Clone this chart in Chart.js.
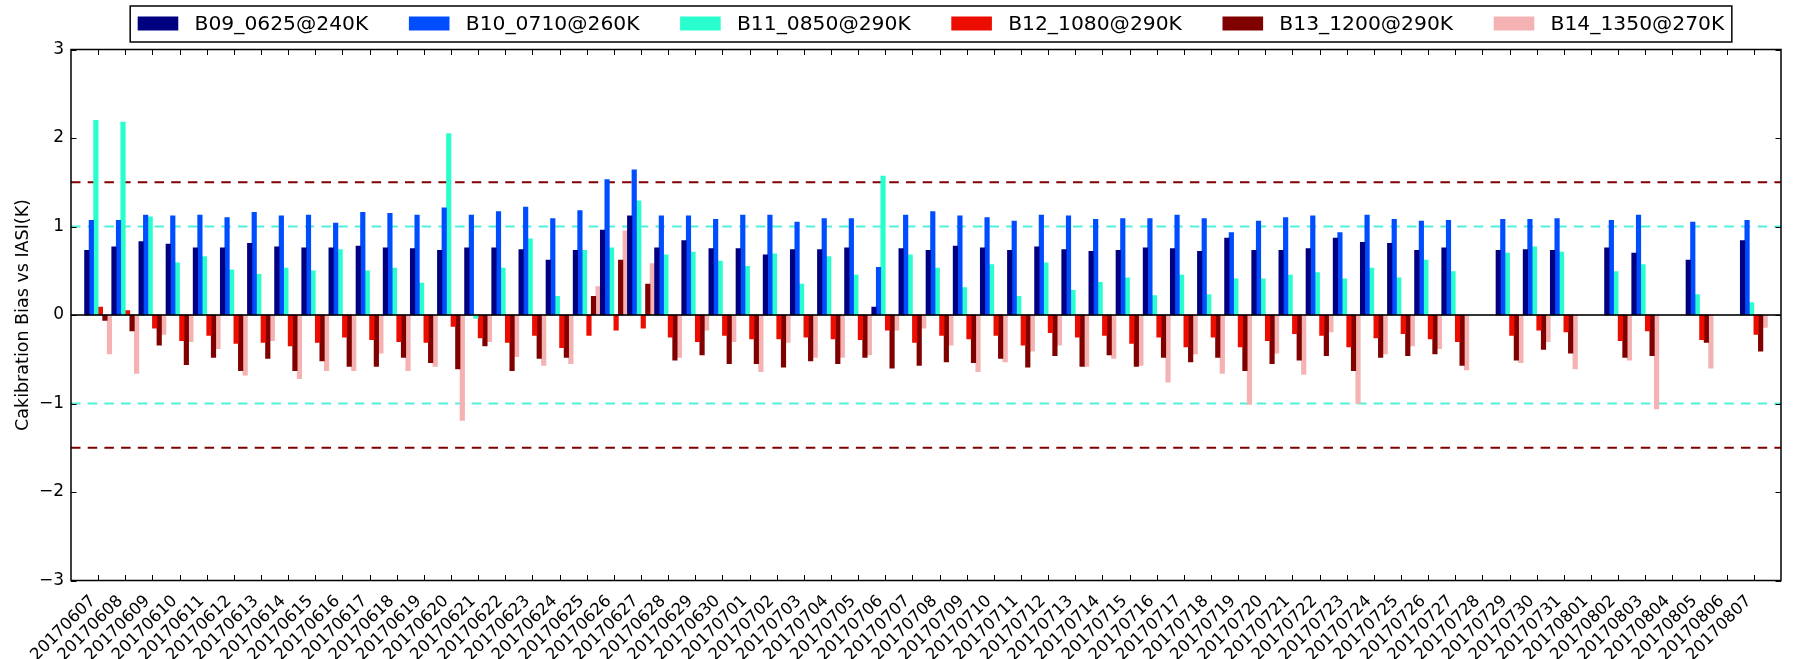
<!DOCTYPE html>
<html>
<head>
<meta charset="utf-8">
<script src="https://cdn.jsdelivr.net/npm/chart.js@4.4.1/dist/chart.umd.min.js"></script>
<style>
    html, body { margin: 0; padding: 0; background: #fff; }
    #wrap { width: 1806px; height: 659px; }
</style>
</head>
<body>
<div id="wrap"><canvas id="biasChart" width="1806" height="659"></canvas></div>
<script>
/* Sesgo de calibración vs IASI por banda */

const fechas = [
    "20170607", "20170608", "20170609", "20170610", "20170611", "20170612", "20170613", "20170614",
    "20170615", "20170616", "20170617", "20170618", "20170619", "20170620", "20170621", "20170622",
    "20170623", "20170624", "20170625", "20170626", "20170627", "20170628", "20170629", "20170630",
    "20170701", "20170702", "20170703", "20170704", "20170705", "20170706", "20170707", "20170708",
    "20170709", "20170710", "20170711", "20170712", "20170713", "20170714", "20170715", "20170716",
    "20170717", "20170718", "20170719", "20170720", "20170721", "20170722", "20170723", "20170724",
    "20170725", "20170726", "20170727", "20170728", "20170729", "20170730", "20170731", "20170801",
    "20170802", "20170803", "20170804", "20170805", "20170806", "20170807"
];

const b09 = [0.73, 0.77, 0.83, 0.80, 0.76, 0.76, 0.81, 0.77, 0.76, 0.76,
    0.78, 0.76, 0.75, 0.73, 0.76, 0.76, 0.74, 0.62, 0.73, 0.96,
    1.12, 0.76, 0.84, 0.75, 0.75, 0.68, 0.74, 0.74, 0.76, 0.09,
    0.75, 0.73, 0.78, 0.76, 0.73, 0.77, 0.74, 0.72, 0.73, 0.76,
    0.75, 0.72, 0.87, 0.73, 0.73, 0.75, 0.87, 0.82, 0.81, 0.73,
    0.76, null, 0.73, 0.74, 0.73, null, 0.76, 0.70, null, 0.62,
    null, 0.84];

const b10 = [1.07, 1.07, 1.13, 1.12, 1.13, 1.10, 1.16, 1.12, 1.13, 1.04,
    1.16, 1.15, 1.13, 1.21, 1.13, 1.17, 1.22, 1.09, 1.18, 1.53,
    1.64, 1.12, 1.12, 1.08, 1.13, 1.13, 1.05, 1.09, 1.09, 0.54,
    1.13, 1.17, 1.12, 1.10, 1.06, 1.13, 1.12, 1.08, 1.09, 1.09,
    1.13, 1.09, 0.93, 1.06, 1.10, 1.12, 0.93, 1.13, 1.08, 1.06,
    1.07, null, 1.08, 1.08, 1.09, null, 1.07, 1.13, null, 1.05,
    null, 1.07];

const b11 = [2.20, 2.18, 1.11, 0.59, 0.66, 0.51, 0.46, 0.53, 0.50, 0.74,
    0.50, 0.53, 0.36, 2.05, -0.04, 0.53, 0.86, 0.21, 0.73, 0.76,
    1.29, 0.68, 0.71, 0.61, 0.55, 0.69, 0.35, 0.66, 0.45, 1.57,
    0.68, 0.53, 0.31, 0.57, 0.21, 0.59, 0.28, 0.37, 0.42, 0.22,
    0.45, 0.23, 0.41, 0.41, 0.45, 0.48, 0.41, 0.53, 0.42, 0.62,
    0.49, null, 0.70, 0.77, 0.71, null, 0.49, 0.57, null, 0.23,
    null, 0.14];

const b12 = [0.09, 0.05, -0.15, -0.29, -0.23, -0.32, -0.31, -0.35, -0.31, -0.25,
    -0.28, -0.30, -0.31, -0.13, -0.26, -0.31, -0.23, -0.37, -0.23, -0.17,
    -0.15, -0.25, -0.30, -0.23, -0.27, -0.27, -0.25, -0.27, -0.28, -0.17,
    -0.31, -0.23, -0.27, -0.23, -0.34, -0.20, -0.25, -0.23, -0.32, -0.25,
    -0.36, -0.25, -0.36, -0.29, -0.21, -0.23, -0.36, -0.26, -0.21, -0.27,
    -0.30, null, -0.23, -0.17, -0.19, null, -0.29, -0.18, null, -0.28,
    null, -0.22];

const b13 = [-0.06, -0.18, -0.34, -0.56, -0.48, -0.63, -0.49, -0.63, -0.52, -0.58,
    -0.58, -0.48, -0.54, -0.61, -0.35, -0.63, -0.49, -0.48, 0.21, 0.62,
    0.35, -0.51, -0.45, -0.55, -0.55, -0.59, -0.52, -0.55, -0.48, -0.60,
    -0.57, -0.53, -0.54, -0.49, -0.59, -0.46, -0.58, -0.45, -0.58, -0.48,
    -0.53, -0.48, -0.63, -0.55, -0.51, -0.46, -0.63, -0.48, -0.46, -0.44,
    -0.57, null, -0.51, -0.39, -0.43, null, -0.48, -0.46, null, -0.31,
    null, -0.41];

const b14 = [-0.44, -0.66, -0.22, -0.30, -0.38, -0.68, -0.29, -0.72, -0.63, -0.63,
    -0.43, -0.63, -0.58, -1.19, -0.30, -0.47, -0.57, -0.55, 0.32, 0.95,
    0.58, -0.48, -0.17, -0.30, -0.64, -0.31, -0.48, -0.48, -0.45, -0.17,
    -0.15, -0.34, -0.64, -0.53, -0.41, -0.34, -0.58, -0.49, -0.57, -0.76,
    -0.44, -0.66, -1.01, -0.43, -0.67, -0.19, -1.00, -0.44, -0.35, -0.38,
    -0.62, null, -0.54, -0.30, -0.61, null, -0.51, -1.06, null, -0.60,
    null, -0.14];

const bandas = ["B09_0625@240K", "B10_0710@260K", "B11_0850@290K",
    "B12_1080@290K", "B13_1200@290K", "B14_1350@270K"];
const colores = ["#000080", "#004cff", "#29ffce", "#ec0c00", "#800000", "#f5b2b2"];

const yTicks = [-3, -2, -1, 0, 1, 2, 3];
const limitesRojo = [1.5, -1.5];
const limitesCian = [1, -1];

const FUENTE = "'DejaVu Sans', 'Liberation Sans', sans-serif";
Chart.defaults.font.family = FUENTE;
Chart.defaults.color = "#000";

// una categoría vacía a cada lado para dejar el margen de matplotlib
const etiquetas = [""].concat(fechas, [""]);
const conMargen = arr => [null].concat(arr, [null]);

// líneas de referencia discontinuas, debajo de las barras
const lineasRef = {
    id: "lineasRef",
    beforeDatasetsDraw(chart) {
        const { ctx, chartArea: a, scales: { y } } = chart;
        ctx.save();
        ctx.lineWidth = 2;
        ctx.setLineDash([9.5, 7.2]);
        const trazar = (v, color) => {
            const py = y.getPixelForValue(v);
            ctx.strokeStyle = color;
            ctx.beginPath();
            ctx.moveTo(a.left, py);
            ctx.lineTo(a.right, py);
            ctx.stroke();
        };
        limitesCian.forEach(v => trazar(v, "#50f0dc"));
        limitesRojo.forEach(v => trazar(v, "#800000"));
        ctx.restore();
    }
};

// marco, línea de cero y marcas hacia dentro en los cuatro lados
const marco = {
    id: "marco",
    afterDatasetsDraw(chart) {
        const { ctx, chartArea: a, scales: { x, y } } = chart;
        ctx.save();
        const p0 = y.getPixelForValue(0);
        ctx.strokeStyle = "rgba(0,0,0,0.8)";
        ctx.lineWidth = 1.8;
        ctx.beginPath();
        ctx.moveTo(a.left, p0);
        ctx.lineTo(a.right, p0);
        ctx.stroke();

        ctx.strokeStyle = "#000";
        ctx.lineWidth = 1;
        const L = 5.5;
        ctx.beginPath();
        for (let i = 1; i <= fechas.length; i++) {
            const px = Math.round(x.getPixelForTick(i)) + 0.5;
            ctx.moveTo(px, a.bottom);
            ctx.lineTo(px, a.bottom - L);
            ctx.moveTo(px, a.top);
            ctx.lineTo(px, a.top + L);
        }
        yTicks.forEach(v => {
            const py = Math.round(y.getPixelForValue(v)) + 0.5;
            ctx.moveTo(a.left, py);
            ctx.lineTo(a.left + L, py);
            ctx.moveTo(a.right, py);
            ctx.lineTo(a.right - L, py);
        });
        ctx.stroke();

        ctx.lineWidth = 1.5;
        ctx.strokeRect(a.left, a.top, a.right - a.left, a.bottom - a.top);
        ctx.restore();
    }
};

// leyenda con marco, en 6 columnas, sobre el área de trazado
const leyenda = {
    id: "leyenda",
    afterDraw(chart) {
        const { ctx, chartArea: a } = chart;
        const fs = 20.3;
        const handle = 2 * fs, sep = 0.8 * fs, col = 2 * fs, borde = 7.5;
        ctx.save();
        ctx.font = fs + "px " + FUENTE;
        const items = chart.data.datasets;
        const anchos = items.map(d => ctx.measureText(d.label).width);
        let total = col * (items.length - 1);
        anchos.forEach(w => { total += handle + sep + w; });
        const cx = (a.left + a.right) / 2 + 5;
        let xi = cx - total / 2;
        const top = 6, alto = 36, cy = top + alto / 2 - 0.5;

        ctx.fillStyle = "#fff";
        ctx.fillRect(xi - borde, top, total + 2 * borde, alto);
        ctx.strokeStyle = "#000";
        ctx.lineWidth = 1.5;
        ctx.strokeRect(xi - borde, top, total + 2 * borde, alto);

        ctx.textBaseline = "middle";
        ctx.textAlign = "left";
        items.forEach((d, i) => {
            ctx.fillStyle = d.backgroundColor;
            ctx.fillRect(xi, cy - 7, handle, 14);
            ctx.fillStyle = "#000";
            ctx.fillText(d.label, xi + handle + sep, cy + 1);
            xi += handle + sep + anchos[i] + col;
        });
        ctx.restore();
    }
};

const series = [b09, b10, b11, b12, b13, b14];

new Chart(document.getElementById("biasChart").getContext("2d"), {
    type: "bar",
    data: {
        labels: etiquetas,
        datasets: series.map((s, i) => ({
            label: bandas[i],
            data: conMargen(s),
            backgroundColor: colores[i],
            borderWidth: 0,
            categoryPercentage: 1,
            barPercentage: 1
        }))
    },
    options: {
        responsive: false,
        animation: false,
        devicePixelRatio: 1,
        layout: { padding: { top: 49.5, right: 6, bottom: 0, left: 0 } },
        plugins: {
            legend: { display: false },
            tooltip: { enabled: false }
        },
        scales: {
            x: {
                type: "category",
                offset: false,
                grid: { display: false, drawTicks: false, offset: false },
                border: { display: false },
                ticks: {
                    autoSkip: false,
                    minRotation: 45,
                    maxRotation: 45,
                    padding: 11,
                    labelOffset: -5,
                    color: "#000",
                    font: { size: 16.5 }
                },
                afterFit: s => { s.height = 78.5; }
            },
            y: {
                min: -3,
                max: 3,
                grid: { display: false, drawTicks: false },
                border: { display: false },
                ticks: {
                    stepSize: 1,
                    padding: 7,
                    color: "#000",
                    font: { size: 17 },
                    callback: v => (v < 0 ? "\u2212" + Math.abs(v) : String(v))
                },
                title: {
                    display: true,
                    text: "Cakibration Bias vs IASI(K)",
                    color: "#000",
                    font: { size: 17.5 },
                    padding: { top: 13, bottom: 0 }
                },
                afterFit: s => { s.width = 71; }
            }
        }
    },
    plugins: [lineasRef, marco, leyenda]
});
</script>
</body>
</html>
